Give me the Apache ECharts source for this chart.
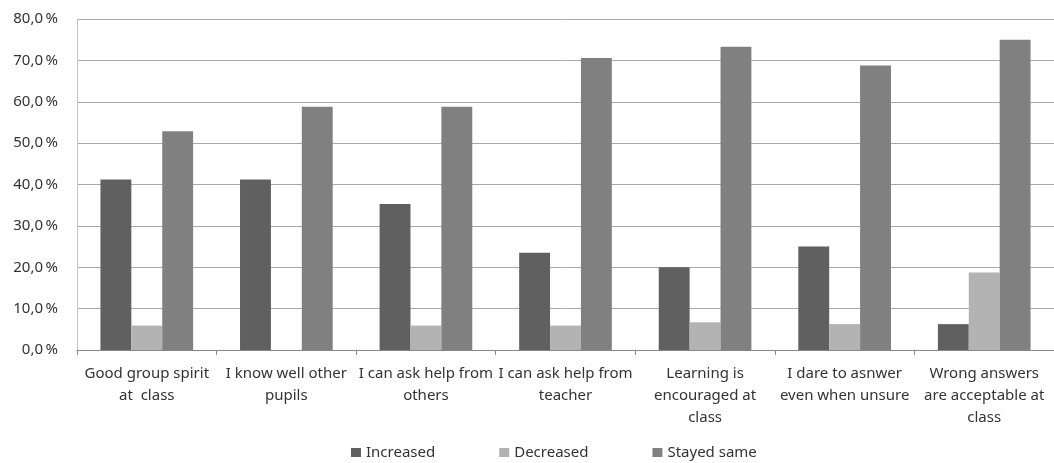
<!DOCTYPE html>
<html>
	<head>
		<meta charset="UTF-8">
		<title>chart</title>
		<style>
			html, body { margin: 0; padding: 0; background: #fff; }
			#chart { width: 1054px; height: 463px; }
		</style>
	</head>
	<body>
		<div id="chart"></div>
		<script src="https://cdn.jsdelivr.net/npm/echarts@6/dist/echarts.min.js"></script>
		<script>
		var categories = [
			'Good group spirit\nat  class',
			'I know well other\npupils',
			'I can ask help from\nothers',
			'I can ask help from\nteacher',
			'Learning is\nencouraged at\nclass',
			'I dare to asnwer\neven when unsure',
			'Wrong answers\nare acceptable at\nclass'
		];
		var increased = [41.2, 41.2, 35.3, 23.5, 20.0, 25.0, 6.25];
		var decreased = [5.9, 0, 5.9, 5.9, 6.7, 6.25, 18.75];
		var stayedSame = [52.9, 58.8, 58.8, 70.6, 73.3, 68.75, 75.0];
		var seriesNames = ['Increased', 'Decreased', 'Stayed same'];

		var font = '"Noto Sans", sans-serif';
		var myChart = echarts.init(document.getElementById('chart'));

		function bar(name, data, color) {
			return {
				name: name,
				type: 'bar',
				data: data,
				barGap: 0,
				barCategoryGap: '33.6%',
				itemStyle: { color: color }
			};
		}

		var option = {
			animation: false,
			textStyle: { fontFamily: font },
			grid: { left: 77, right: -4, top: 19, bottom: 113 },
			legend: {
				bottom: -2,
				left: 346,
				itemWidth: 10,
				itemHeight: 9,
				itemGap: 64,
				icon: 'rect',
				textStyle: { fontFamily: font, fontSize: 15, color: '#333' },
				data: seriesNames
			},
			xAxis: {
				type: 'category',
				data: categories,
				axisLine: { lineStyle: { color: '#888', width: 1 } },
				axisTick: { show: true, length: 5, lineStyle: { color: '#888' } },
				axisLabel: { fontFamily: font, fontSize: 15, color: '#333', lineHeight: 22, margin: 13, interval: 0 }
			},
			yAxis: {
				type: 'value',
				min: 0,
				max: 80,
				interval: 10,
				axisLine: { show: true, lineStyle: { color: '#c4c4c4' } },
				axisTick: { show: false },
				splitLine: { lineStyle: { color: '#a8a8a8', width: 1 } },
				axisLabel: {
					fontFamily: font, fontSize: 15, color: '#333', margin: 19,
					formatter: function (v) { return v.toFixed(1).replace('.', ',') + '\u2009%'; }
				}
			},
			series: [
				bar(seriesNames[0], increased, '#606060'),
				bar(seriesNames[1], decreased, '#b3b3b3'),
				bar(seriesNames[2], stayedSame, '#808080')
			]
		};
		myChart.setOption(option);
		</script>
	</body>
</html>
